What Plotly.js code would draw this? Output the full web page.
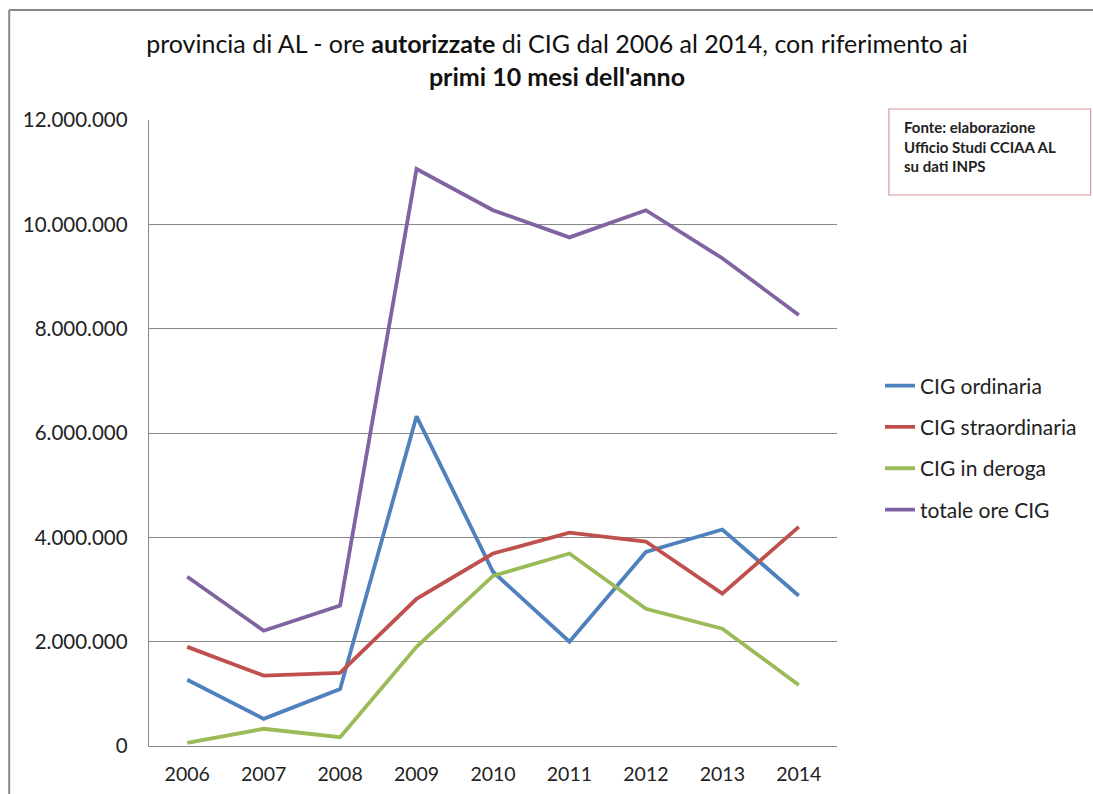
<!DOCTYPE html>
<html>
<head>
<meta charset="utf-8">
<script src="https://cdn.plot.ly/plotly-3.0.1.min.js"></script>
<style>html,body{margin:0;padding:0;background:#fff;}#chart{width:1093px;height:794px;}</style>
</head>
<body>
<div id="chart"></div>
<script>
const years = ["2006","2007","2008","2009","2010","2011","2012","2013","2014"];
const cigOrdinaria = [1270000, 520000, 1090000, 6320000, 3340000, 2000000, 3720000, 4150000, 2880000];
const cigStraordinaria = [1900000, 1350000, 1400000, 2820000, 3690000, 4090000, 3920000, 2920000, 4200000];
const cigDeroga = [60000, 330000, 170000, 1900000, 3260000, 3690000, 2630000, 2250000, 1170000];
const totaleCig = [3245000, 2210000, 2690000, 11060000, 10270000, 9750000, 10270000, 9350000, 8260000];
const seriesNames = ["CIG ordinaria", "CIG straordinaria", "CIG in deroga", "totale ore CIG"];
const yTicks = [0, 2000000, 4000000, 6000000, 8000000, 10000000, 12000000];

const colors = ["#4F81BD", "#C0504D", "#9BBB59", "#8064A2"];
const data = [cigOrdinaria, cigStraordinaria, cigDeroga, totaleCig].map((v, i) => ({
  type: "scatter", mode: "lines", x: years, y: v, name: seriesNames[i],
  legendgroup: "g" + i,
  line: {color: colors[i], width: 3.8},
  hoverinfo: "x+y+name"
}));

const L = 149, R = 838, T = 120, B = 746, W = 1093, H = 794;
const px = p => (p - L) / (R - L);
const py = p => (B - p) / (B - T);

const layout = {
  width: W, height: H,
  margin: {l: L, r: W - R, t: T, b: H - B, pad: 0},
  paper_bgcolor: "#fff", plot_bgcolor: "#fff",
  separators: ",.",
  font: {family: "Lato, 'Open Sans', sans-serif", color: "#222", size: 19},
  title: {
    text: "provincia di AL - ore <b>autorizzate</b> di CIG dal 2006 al 2014, con riferimento ai<br><b>primi 10 mesi dell'anno</b>",
    x: 557 / W, xref: "container", xanchor: "center",
    y: 1 - 53 / H, yref: "container", yanchor: "top",
    font: {size: 25, color: "#111"}
  },
  xaxis: {
    type: "category", range: [-0.5, 8.5], showgrid: false,
    showline: true, linecolor: "#888", linewidth: 1.3,
    ticks: "outside", ticklen: 10, tickcolor: "rgba(0,0,0,0)",
    tickfont: {size: 19.5, color: "#222"}, zeroline: false, fixedrange: true
  },
  yaxis: {
    range: [0, 12000000], tickvals: yTicks, tickformat: ",d",
    showgrid: true, gridcolor: "#888", gridwidth: 1,
    showline: true, linecolor: "#888", linewidth: 1.3,
    ticks: "outside", ticklen: 16, tickcolor: "rgba(0,0,0,0)",
    tickfont: {size: 20.5, color: "#222"}, zeroline: false, fixedrange: true
  },
  legend: {
    x: px(880), xanchor: "left", y: py(448), yanchor: "middle",
    traceorder: "grouped", tracegroupgap: 11,
    font: {size: 21, color: "#222"}, bgcolor: "rgba(0,0,0,0)",
    itemwidth: 30
  },
  shapes: [
    {type: "line", xref: "paper", yref: "paper", x0: px(9), x1: px(9), y0: py(10), y1: py(800), line: {color: "#888", width: 2}},
    {type: "line", xref: "paper", yref: "paper", x0: px(9), x1: px(1100), y0: py(10), y1: py(10), line: {color: "#888", width: 2}},
    {type: "rect", xref: "paper", yref: "paper", x0: px(890), x1: px(1092), y0: py(109), y1: py(195), line: {color: "#D99694", width: 1.2}, fillcolor: "#fff", layer: "above"}
  ],
  annotations: [{
    xref: "paper", yref: "paper", x: px(903), y: py(147), xanchor: "left", yanchor: "middle",
    text: "<b>Fonte: elaborazione<br>Ufficio Studi CCIAA AL<br>su dati INPS</b>",
    align: "left", showarrow: false,
    font: {size: 15, color: "#222"}
  }],
  showlegend: true
};

Plotly.newPlot("chart", data, layout, {displayModeBar: false, staticPlot: true});
</script>
</body>
</html>
